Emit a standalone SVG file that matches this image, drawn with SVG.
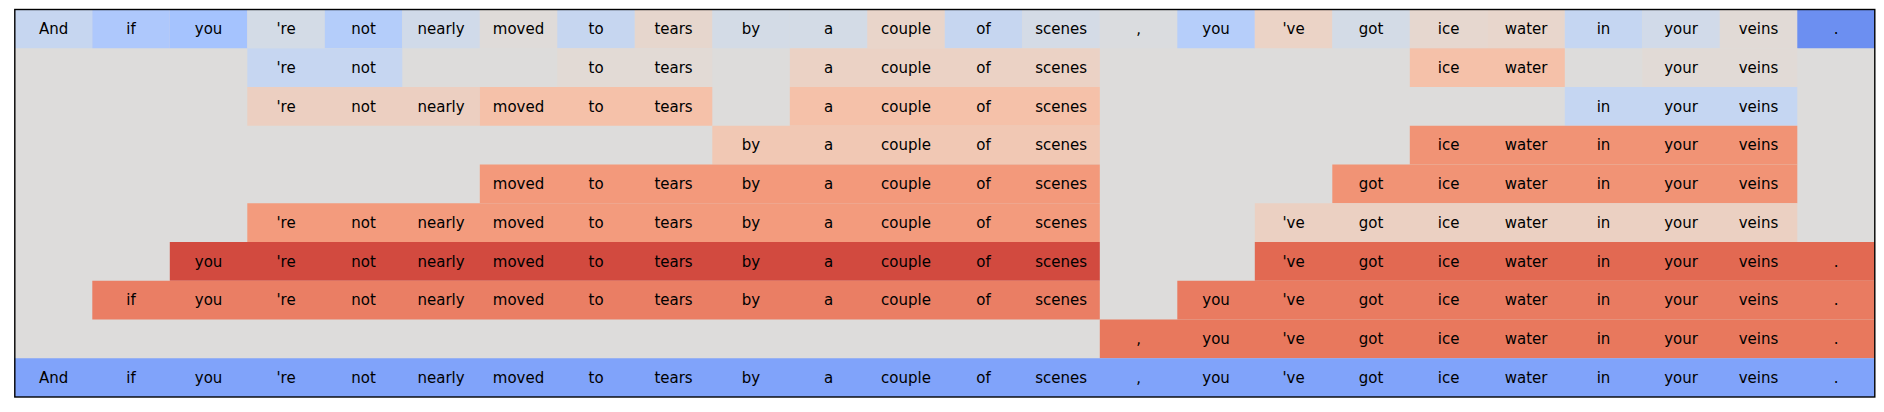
<svg xmlns="http://www.w3.org/2000/svg" width="1884" height="412" viewBox="0 0 1884 412">
<style>
text{font-family:"DejaVu Sans","Liberation Sans",sans-serif;font-size:15px;fill:#000;text-anchor:middle}
</style>
<rect x="0" y="0" width="1884" height="412" fill="#ffffff"/>
<g id="grid-bg"><rect x="14.8" y="9.5" width="1860" height="387.5" fill="#dddcdb"/></g>
<g id="row0">
<rect x="14.8" y="9.5" width="77.5" height="38.75" fill="#c6d6f0"/>
<rect x="92.3" y="9.5" width="77.5" height="38.75" fill="#aec8fc"/>
<rect x="169.8" y="9.5" width="77.5" height="38.75" fill="#a5c3fe"/>
<rect x="247.3" y="9.5" width="77.5" height="38.75" fill="#d3dbe6"/>
<rect x="324.8" y="9.5" width="77.5" height="38.75" fill="#b4cdfa"/>
<rect x="402.3" y="9.5" width="77.5" height="38.75" fill="#d0dae9"/>
<rect x="479.8" y="9.5" width="77.5" height="38.75" fill="#dfdbd9"/>
<rect x="557.3" y="9.5" width="77.5" height="38.75" fill="#c6d6f0"/>
<rect x="634.8" y="9.5" width="77.5" height="38.75" fill="#e6d6cd"/>
<rect x="712.3" y="9.5" width="77.5" height="38.75" fill="#d3dbe6"/>
<rect x="789.8" y="9.5" width="77.5" height="38.75" fill="#d3dbe6"/>
<rect x="867.3" y="9.5" width="77.5" height="38.75" fill="#e9d5ca"/>
<rect x="944.8" y="9.5" width="77.5" height="38.75" fill="#c6d6f0"/>
<rect x="1022.3" y="9.5" width="77.5" height="38.75" fill="#d4dbe6"/>
<rect x="1099.8" y="9.5" width="77.5" height="38.75" fill="#dadcdf"/>
<rect x="1177.3" y="9.5" width="77.5" height="38.75" fill="#b6cefa"/>
<rect x="1254.8" y="9.5" width="77.5" height="38.75" fill="#ebd3c6"/>
<rect x="1332.3" y="9.5" width="77.5" height="38.75" fill="#d3dbe6"/>
<rect x="1409.8" y="9.5" width="77.5" height="38.75" fill="#e6d7cf"/>
<rect x="1487.3" y="9.5" width="77.5" height="38.75" fill="#e8d6cc"/>
<rect x="1564.8" y="9.5" width="77.5" height="38.75" fill="#c5d6f2"/>
<rect x="1642.3" y="9.5" width="77.5" height="38.75" fill="#d1dae9"/>
<rect x="1719.8" y="9.5" width="77.5" height="38.75" fill="#e1dad6"/>
<rect x="1797.3" y="9.5" width="77.5" height="38.75" fill="#6c8ff1"/>
<text x="53.55" y="34.18">And</text><text x="131.05" y="34.18">if</text><text x="208.55" y="34.18">you</text><text x="286.05" y="34.18">'re</text><text x="363.55" y="34.18">not</text><text x="441.05" y="34.18">nearly</text><text x="518.55" y="34.18">moved</text><text x="596.05" y="34.18">to</text><text x="673.55" y="34.18">tears</text><text x="751.05" y="34.18">by</text><text x="828.55" y="34.18">a</text><text x="906.05" y="34.18">couple</text><text x="983.55" y="34.18">of</text><text x="1061.05" y="34.18">scenes</text><text x="1138.55" y="34.18">,</text><text x="1216.05" y="34.18">you</text><text x="1293.55" y="34.18">'ve</text><text x="1371.05" y="34.18">got</text><text x="1448.55" y="34.18">ice</text><text x="1526.05" y="34.18">water</text><text x="1603.55" y="34.18">in</text><text x="1681.05" y="34.18">your</text><text x="1758.55" y="34.18">veins</text><text x="1836.05" y="34.18">.</text>
</g>
<g id="row1">
<rect x="247.3" y="48.25" width="155" height="38.75" fill="#c6d6f1"/>
<rect x="557.3" y="48.25" width="155" height="38.75" fill="#e2dad5"/>
<rect x="789.8" y="48.25" width="310" height="38.75" fill="#ebd2c5"/>
<rect x="1409.8" y="48.25" width="155" height="38.75" fill="#f5c1a9"/>
<rect x="1642.3" y="48.25" width="155" height="38.75" fill="#e1dad6"/>
<text x="286.05" y="72.93">'re</text><text x="363.55" y="72.93">not</text><text x="596.05" y="72.93">to</text><text x="673.55" y="72.93">tears</text><text x="828.55" y="72.93">a</text><text x="906.05" y="72.93">couple</text><text x="983.55" y="72.93">of</text><text x="1061.05" y="72.93">scenes</text><text x="1448.55" y="72.93">ice</text><text x="1526.05" y="72.93">water</text><text x="1681.05" y="72.93">your</text><text x="1758.55" y="72.93">veins</text>
</g>
<g id="row2">
<rect x="247.3" y="87" width="232.5" height="38.75" fill="#eccfc1"/>
<rect x="479.8" y="87" width="232.5" height="38.75" fill="#f5c1a9"/>
<rect x="789.8" y="87" width="310" height="38.75" fill="#f5c1a9"/>
<rect x="1564.8" y="87" width="232.5" height="38.75" fill="#c5d6f2"/>
<text x="286.05" y="111.68">'re</text><text x="363.55" y="111.68">not</text><text x="441.05" y="111.68">nearly</text><text x="518.55" y="111.68">moved</text><text x="596.05" y="111.68">to</text><text x="673.55" y="111.68">tears</text><text x="828.55" y="111.68">a</text><text x="906.05" y="111.68">couple</text><text x="983.55" y="111.68">of</text><text x="1061.05" y="111.68">scenes</text><text x="1603.55" y="111.68">in</text><text x="1681.05" y="111.68">your</text><text x="1758.55" y="111.68">veins</text>
</g>
<g id="row3">
<rect x="712.3" y="125.75" width="387.5" height="38.75" fill="#f1c8b4"/>
<rect x="1409.8" y="125.75" width="387.5" height="38.75" fill="#f19375"/>
<text x="751.05" y="150.43">by</text><text x="828.55" y="150.43">a</text><text x="906.05" y="150.43">couple</text><text x="983.55" y="150.43">of</text><text x="1061.05" y="150.43">scenes</text><text x="1448.55" y="150.43">ice</text><text x="1526.05" y="150.43">water</text><text x="1603.55" y="150.43">in</text><text x="1681.05" y="150.43">your</text><text x="1758.55" y="150.43">veins</text>
</g>
<g id="row4">
<rect x="479.8" y="164.5" width="620" height="38.75" fill="#f3997b"/>
<rect x="1332.3" y="164.5" width="465" height="38.75" fill="#f19375"/>
<text x="518.55" y="189.18">moved</text><text x="596.05" y="189.18">to</text><text x="673.55" y="189.18">tears</text><text x="751.05" y="189.18">by</text><text x="828.55" y="189.18">a</text><text x="906.05" y="189.18">couple</text><text x="983.55" y="189.18">of</text><text x="1061.05" y="189.18">scenes</text><text x="1371.05" y="189.18">got</text><text x="1448.55" y="189.18">ice</text><text x="1526.05" y="189.18">water</text><text x="1603.55" y="189.18">in</text><text x="1681.05" y="189.18">your</text><text x="1758.55" y="189.18">veins</text>
</g>
<g id="row5">
<rect x="247.3" y="203.25" width="852.5" height="38.75" fill="#f39b7d"/>
<rect x="1254.8" y="203.25" width="542.5" height="38.75" fill="#ebd0c2"/>
<text x="286.05" y="227.93">'re</text><text x="363.55" y="227.93">not</text><text x="441.05" y="227.93">nearly</text><text x="518.55" y="227.93">moved</text><text x="596.05" y="227.93">to</text><text x="673.55" y="227.93">tears</text><text x="751.05" y="227.93">by</text><text x="828.55" y="227.93">a</text><text x="906.05" y="227.93">couple</text><text x="983.55" y="227.93">of</text><text x="1061.05" y="227.93">scenes</text><text x="1293.55" y="227.93">'ve</text><text x="1371.05" y="227.93">got</text><text x="1448.55" y="227.93">ice</text><text x="1526.05" y="227.93">water</text><text x="1603.55" y="227.93">in</text><text x="1681.05" y="227.93">your</text><text x="1758.55" y="227.93">veins</text>
</g>
<g id="row6">
<rect x="169.8" y="242" width="930" height="38.75" fill="#d24a3f"/>
<rect x="1254.8" y="242" width="620" height="38.75" fill="#e26952"/>
<text x="208.55" y="266.68">you</text><text x="286.05" y="266.68">'re</text><text x="363.55" y="266.68">not</text><text x="441.05" y="266.68">nearly</text><text x="518.55" y="266.68">moved</text><text x="596.05" y="266.68">to</text><text x="673.55" y="266.68">tears</text><text x="751.05" y="266.68">by</text><text x="828.55" y="266.68">a</text><text x="906.05" y="266.68">couple</text><text x="983.55" y="266.68">of</text><text x="1061.05" y="266.68">scenes</text><text x="1293.55" y="266.68">'ve</text><text x="1371.05" y="266.68">got</text><text x="1448.55" y="266.68">ice</text><text x="1526.05" y="266.68">water</text><text x="1603.55" y="266.68">in</text><text x="1681.05" y="266.68">your</text><text x="1758.55" y="266.68">veins</text><text x="1836.05" y="266.68">.</text>
</g>
<g id="row7">
<rect x="92.3" y="280.75" width="1007.5" height="38.75" fill="#ea7e64"/>
<rect x="1177.3" y="280.75" width="697.5" height="38.75" fill="#e97b61"/>
<text x="131.05" y="305.43">if</text><text x="208.55" y="305.43">you</text><text x="286.05" y="305.43">'re</text><text x="363.55" y="305.43">not</text><text x="441.05" y="305.43">nearly</text><text x="518.55" y="305.43">moved</text><text x="596.05" y="305.43">to</text><text x="673.55" y="305.43">tears</text><text x="751.05" y="305.43">by</text><text x="828.55" y="305.43">a</text><text x="906.05" y="305.43">couple</text><text x="983.55" y="305.43">of</text><text x="1061.05" y="305.43">scenes</text><text x="1216.05" y="305.43">you</text><text x="1293.55" y="305.43">'ve</text><text x="1371.05" y="305.43">got</text><text x="1448.55" y="305.43">ice</text><text x="1526.05" y="305.43">water</text><text x="1603.55" y="305.43">in</text><text x="1681.05" y="305.43">your</text><text x="1758.55" y="305.43">veins</text><text x="1836.05" y="305.43">.</text>
</g>
<g id="row8">
<rect x="1099.8" y="319.5" width="775" height="38.75" fill="#e8785d"/>
<text x="1138.55" y="344.18">,</text><text x="1216.05" y="344.18">you</text><text x="1293.55" y="344.18">'ve</text><text x="1371.05" y="344.18">got</text><text x="1448.55" y="344.18">ice</text><text x="1526.05" y="344.18">water</text><text x="1603.55" y="344.18">in</text><text x="1681.05" y="344.18">your</text><text x="1758.55" y="344.18">veins</text><text x="1836.05" y="344.18">.</text>
</g>
<g id="row9">
<rect x="14.8" y="358.25" width="1860" height="38.75" fill="#80a3fa"/>
<text x="53.55" y="382.93">And</text><text x="131.05" y="382.93">if</text><text x="208.55" y="382.93">you</text><text x="286.05" y="382.93">'re</text><text x="363.55" y="382.93">not</text><text x="441.05" y="382.93">nearly</text><text x="518.55" y="382.93">moved</text><text x="596.05" y="382.93">to</text><text x="673.55" y="382.93">tears</text><text x="751.05" y="382.93">by</text><text x="828.55" y="382.93">a</text><text x="906.05" y="382.93">couple</text><text x="983.55" y="382.93">of</text><text x="1061.05" y="382.93">scenes</text><text x="1138.55" y="382.93">,</text><text x="1216.05" y="382.93">you</text><text x="1293.55" y="382.93">'ve</text><text x="1371.05" y="382.93">got</text><text x="1448.55" y="382.93">ice</text><text x="1526.05" y="382.93">water</text><text x="1603.55" y="382.93">in</text><text x="1681.05" y="382.93">your</text><text x="1758.55" y="382.93">veins</text><text x="1836.05" y="382.93">.</text>
</g>
<g id="frame"><rect x="14.8" y="9.5" width="1860" height="387.5" fill="none" stroke="#000" stroke-width="1.4"/></g>
</svg>
